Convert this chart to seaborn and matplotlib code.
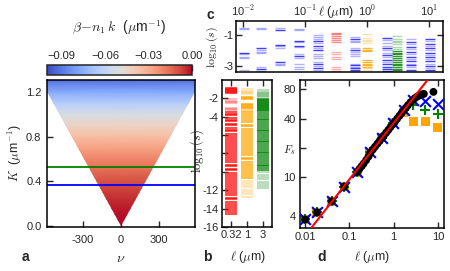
import numpy as np
import matplotlib
matplotlib.use("Agg")
import matplotlib.pyplot as plt
import seaborn as sns
from matplotlib.patches import Polygon
from matplotlib.ticker import NullLocator

sns.set_theme(style="ticks")
plt.rcParams["font.family"] = ["Liberation Sans", "DejaVu Sans"]
plt.rcParams["mathtext.fontset"] = "cm"
plt.rcParams["axes.unicode_minus"] = False

# ── (a) mode map: beta - n1 k ───────────
K_levels = [0.0, 0.1, 0.2, 0.3, 0.4, 0.5, 0.6, 0.7, 0.8, 0.9, 1.0, 1.1, 1.2, 1.3, 1.4]
beta_levels = [0.0, -0.001, -0.003, -0.006, -0.010, -0.015, -0.020, -0.027,
               -0.035, -0.043, -0.052, -0.063, -0.076, -0.090, -0.100]
nu_span = [-600, 600]
cone_slope = 480          # allowed modes: |nu| <= cone_slope * K
K_green = 0.53
K_blue = 0.365

# ── (b) full spectra, log10(s) ────────────────────────────────────
b_ell = ["0.32", "1", "3"]
red_strong = [-0.85, -0.97, -1.09, -1.21, -1.33, -1.45,
              -3.45, -3.65, -3.85, -4.1, -4.3, -4.5, -4.75, -4.95, -5.2, -5.4, -5.6,
              -5.85, -6.05, -6.3, -6.5, -6.7, -6.95, -7.15, -7.4, -7.6, -7.85, -8.05,
              -8.3, -8.5, -8.75, -8.95, -9.2, -9.4, -9.65, -9.85, -10.1, -10.3, -10.55,
              -10.75, -11.0, -11.2, -11.45, -11.65, -11.9, -12.1, -12.35, -12.55, -12.8,
              -13.0, -13.25, -13.45, -13.7, -13.9, -14.15, -14.35, -14.55]
red_faint = [-2.1, -2.25, -2.4, -2.55, -3.05, -3.2, -3.32]
orange_strong = [-1.87, -1.96, -2.05, -2.63, -2.74, -2.85, -2.95, -3.06,
                 -3.5, -3.7, -3.95, -4.15, -4.4, -4.6, -4.85, -5.05, -5.3, -5.5, -5.75,
                 -5.95, -6.2, -6.4, -6.65, -6.85, -7.1, -7.3, -7.55, -7.75, -8.0, -8.2,
                 -8.45, -8.65, -8.9, -9.1, -9.35, -9.55, -9.8, -10.0, -10.25, -10.45, -10.7]
orange_faint = [-0.95, -1.2, -1.3, -1.4, -1.5, -3.17, -3.28, -3.39,
                -10.95, -11.2, -11.45, -11.7, -11.95, -12.2, -12.45, -12.7]
green_strong = [-2.04, -2.15, -2.26, -2.37, -2.48, -2.63, -2.74, -2.85, -2.95, -3.1,
                -3.2, -3.28, -3.39, -3.6, -3.8, -4.0, -4.2, -4.4, -4.6, -4.8, -5.0,
                -5.2, -5.4, -5.6, -5.8, -6.0, -6.2, -6.4, -6.6, -6.8, -7.0, -7.2, -7.4,
                -7.6, -7.8, -8.0, -8.2, -8.4, -8.6, -8.8, -9.0, -9.2, -9.4, -9.6, -9.8]
green_faint = [-1.1, -1.26, -1.37, -1.48, -1.59, -1.75, -1.9,
               -10.05, -10.3, -10.55, -10.8, -11.05, -11.3, -11.55, -11.8]

# ── (c) top of the spectra vs ell (blue columns) ─────────────────
c_ell_red, c_ell_orange, c_ell_green = 0.32, 1.0, 3.0
blue_ell = [0.0104, 0.0195, 0.040, 0.080, 0.163, 0.64, 2.1, 5.05, 10.4]
blue_strong = [
    [-2.15],
    [-1.87, -3.21],
    [-0.65, -1.65, -2.74],
    [-1.39, -1.70, -2.39],
    [-1.37, -1.70, -1.96, -2.87, -3.13],
    [-1.26, -1.98, -2.95, -3.17, -3.28, -3.39],
    [-1.2, -1.83, -2.3, -2.6, -2.9, -3.05, -3.2, -3.35],
    [-1.45, -1.75, -2.1, -2.4, -2.7, -2.95, -3.25, -3.38],
    [-1.25, -1.6, -1.85, -2.15, -2.45, -2.7, -3.0, -3.3],
]
blue_faint = [
    [-0.52, -0.61, -2.26, -2.41, -2.48, -3.28],
    [-0.52, -0.61, -1.95, -2.09, -2.17, -3.06, -3.35],
    [-0.52, -1.74, -1.82, -2.87, -2.95],
    [-0.61, -0.69, -1.48, -1.80, -2.26, -2.52, -2.90, -3.06, -3.2],
    [-1.0, -1.13, -1.26, -1.54, -1.83, -2.26, -2.37, -2.48, -2.74, -3.0, -3.26],
    [-1.15, -1.37, -1.48, -1.87, -2.09, -2.22, -2.35, -2.85, -3.06],
    [-1.35, -1.5, -1.7, -2.0, -2.15, -2.45, -2.75],
    [-1.25, -1.6, -1.9, -2.25, -2.55, -2.85, -3.1],
    [-1.4, -1.7, -2.0, -2.3, -2.55, -2.85, -3.15],
]

# ── (d) F_s vs ell ────────────────────────────────────────────────
ell_mk = [0.01, 0.0185, 0.04, 0.076, 0.15, 0.29, 0.54, 0.98, 1.7, 2.8, 5.1, 10.0]
F_blue = [3.67, 4.35, 5.65, 8.0, 11.2, 18.0, 25.5, 36.4, 49.0, 63.0, 60.6, 57.0]
F_green = [3.67, 4.35, 5.65, 8.0, 11.2, 18.0, 25.5, 36.4, 49.0, 55.0, 48.7, 44.4]
F_orange = [3.67, 4.35, 5.65, 8.0, 11.2, 18.0, 25.5, 36.4, 46.0, 37.0, 37.0, 32.4]
ell_black = [0.01, 0.0185, 0.04, 0.076, 0.15, 0.17, 0.19, 0.21, 0.24, 0.27, 0.3, 0.34,
             0.38, 0.43, 0.48, 0.54, 0.6, 0.68, 0.76, 0.85, 0.95, 1.07, 1.2, 1.35,
             1.5, 1.7, 1.9, 2.1, 2.4, 2.7, 3.0, 3.4, 3.8, 4.3, 4.8, 7.9]
F_black = [3.67, 4.35, 5.65, 8.0, 11.3, 12.2, 13.0, 13.8, 15.0, 16.3, 17.9, 19.3,
           20.6, 22.1, 23.5, 25.2, 26.8, 28.8, 30.7, 32.8, 35.0, 37.4, 40.0, 42.8,
           45.5, 49.0, 52.0, 55.0, 59.0, 62.0, 65.0, 67.5, 69.5, 71.0, 72.0, 75.5]
ell_fit = [0.008, 10.0]
F_fit = [2.19, 137.0]

FS = 8
BLUE, RED, ORANGE, GREEN = "#0000ff", "#ff0000", "#ffa500", "#008000"

fig = plt.figure(figsize=(4.5, 2.71), dpi=100)


def style(ax, **kw):
    ax.tick_params(direction="in", length=4, width=1.0, labelsize=FS, **kw)
    for s in ax.spines.values():
        s.set_linewidth(1.1)
        s.set_color("black")


# ── panel a ──
ax_a = fig.add_axes([0.1044, 0.1624, 0.329, 0.5424])
Z = np.repeat(np.array(beta_levels)[:, None], 2, axis=1)
mesh = ax_a.pcolormesh(nu_span, K_levels, Z, shading="gouraud", cmap="coolwarm",
                       vmin=-0.1, vmax=0.0)
Kmax = K_levels[-1]
tri = Polygon([(0, 0), (-cone_slope * Kmax, Kmax), (cone_slope * Kmax, Kmax)],
              transform=ax_a.transData)
mesh.set_clip_path(tri)
ax_a.axhline(K_green, color=GREEN, lw=1.3)
ax_a.axhline(K_blue, color=BLUE, lw=1.3)
ax_a.set_xlim(-580, 580)
ax_a.set_ylim(-0.01, 1.31)
ax_a.set_xticks([-300, 0, 300])
ax_a.set_yticks([0, 0.4, 0.8, 1.2])
ax_a.set_yticklabels(["0.0", "0.4", "0.8", "1.2"])
style(ax_a, top=True, right=False, pad=4)
ax_a.tick_params(axis="x", pad=6)
ax_a.set_xlabel(r"$\nu$", fontsize=10)
ax_a.xaxis.set_label_coords(0.5, -0.21)
ax_a.xaxis.label.set_va("center")
ax_a.set_ylabel(r"$K$  ($\mu$m$^{-1}$)", fontsize=9)
ax_a.yaxis.set_label_coords(-0.216, 0.5)
ax_a.yaxis.label.set_va("center")

cax = fig.add_axes([0.1044, 0.7232, 0.322, 0.0369])
cb = fig.colorbar(mesh, cax=cax, orientation="horizontal")
cb.outline.set_linewidth(1.1)
cax.xaxis.set_ticks_position("top")
cax.set_xticks([-0.09, -0.06, -0.03, 0.0])
cax.set_xticklabels(["\u22120.09", "\u22120.06", "\u22120.03", "0.00"])
cax.tick_params(direction="in", length=4, width=1.0, labelsize=FS, pad=3)
cax.xaxis.set_minor_locator(NullLocator())
cax.set_xlabel(r"$\beta\!-\!n_1\,k$  ($\mu$m$^{-1}$)", fontsize=10)
cax.xaxis.set_label_position("top")
cax.xaxis.set_label_coords(0.5, 4.8)
cax.xaxis.label.set_va("center")


def spectrum(ax, vals, color, alpha, lo, hi, lw):
    ax.hlines(vals, lo, hi, colors=color, alpha=alpha, lw=lw)


# ── panel b ──
ax_b = fig.add_axes([0.4933, 0.1624, 0.111, 0.5424])
for i, (vs, vf, col) in enumerate([(red_strong, red_faint, RED),
                                   (orange_strong, orange_faint, ORANGE),
                                   (green_strong, green_faint, GREEN)]):
    spectrum(ax_b, vs, col, 0.9, i - 0.38, i + 0.38, 1.1)
    spectrum(ax_b, vf, col, 0.35, i - 0.38, i + 0.38, 1.1)
ax_b.set_xlim(-0.56, 2.56)
ax_b.set_ylim(-16, 0)
ax_b.set_xticks([0, 1, 2])
ax_b.set_xticklabels(b_ell)
ax_b.set_yticks(list(range(-16, -1, 2)))
ax_b.set_yticklabels(["-16", "-14", "-12", "", "", "", "-4", "-2"])
style(ax_b, top=True, right=False, pad=2.5)
ax_b.set_xlabel(r"$\ell$ ($\mu$m)", fontsize=9)
ax_b.xaxis.set_label_coords(0.52, -0.204)
ax_b.xaxis.label.set_va("center")
ax_b.set_ylabel(r"$\log_{10}(s)$", fontsize=9)
ax_b.yaxis.set_label_coords(-0.5, 0.52)
ax_b.yaxis.label.set_va("center")

# ── panel c ──
ax_c = fig.add_axes([0.5244, 0.7343, 0.46, 0.188])
ax_c.set_xscale("log")
hw = 1.2
for x, vs, vf in zip(blue_ell, blue_strong, blue_faint):
    spectrum(ax_c, vs, BLUE, 0.75, x / hw, x * hw, 1.0)
    spectrum(ax_c, vf, BLUE, 0.3, x / hw, x * hw, 1.0)
for x, vs, vf, col, a in [(c_ell_red, red_strong, red_faint, RED, 0.45),
                          (c_ell_orange, orange_strong, orange_faint, ORANGE, 0.8),
                          (c_ell_green, green_strong, green_faint, GREEN, 0.8)]:
    spectrum(ax_c, vs, col, a, x / hw, x * hw, 1.0)
    spectrum(ax_c, vf, col, 0.3, x / hw, x * hw, 1.0)
ax_c.set_xlim(0.0077, 16.8)
ax_c.set_ylim(-3.4, -0.1)
ax_c.set_xticks([0.01, 0.1, 1, 10])
ax_c.set_xticklabels([r"10$^{\mathsf{-2}}$", r"10$^{\mathsf{-1}}$",
                      r"10$^{\mathsf{0}}$", r"10$^{\mathsf{1}}$"])
ax_c.xaxis.set_minor_locator(NullLocator())
ax_c.set_yticks([-3, -1])
ax_c.set_yticklabels(["-3", "-1"])
style(ax_c, top=True, bottom=False, labeltop=True, labelbottom=False, right=True, pad=2)
ax_c.set_xlabel(r"$\ell$ ($\mu$m)", fontsize=9)
ax_c.xaxis.set_label_position("top")
ax_c.xaxis.set_label_coords(0.483, 1.176)
ax_c.xaxis.label.set_va("center")
ax_c.set_ylabel(r"$\log_{10}(s)$", fontsize=8.5)
ax_c.yaxis.set_label_coords(-0.112, 0.5)
ax_c.yaxis.label.set_va("center")

# ── panel d ──
ax_d = fig.add_axes([0.6667, 0.1587, 0.32, 0.546])
ax_d.set_xscale("log")
ax_d.set_yscale("log")
sns.scatterplot(x=ell_mk, y=F_orange, marker="s", color=ORANGE, s=42,
                edgecolor="none", ax=ax_d, zorder=2)
sns.scatterplot(x=ell_mk, y=F_green, marker="+", color=GREEN, s=55,
                linewidth=1.5, ax=ax_d, zorder=3)
sns.scatterplot(x=ell_mk, y=F_blue, marker="x", color=BLUE, s=60,
                linewidth=1.5, ax=ax_d, zorder=4)
sns.scatterplot(x=ell_black, y=F_black, marker="o", color="black", s=32,
                edgecolor="none", ax=ax_d, zorder=5)
sns.lineplot(x=ell_fit, y=F_fit, color=RED, lw=1.5, ax=ax_d, zorder=6)
ax_d.set_xlim(0.0077, 13.7)
ax_d.set_ylim(3, 100)
ax_d.set_xticks([0.01, 0.1, 1, 10])
ax_d.set_xticklabels(["0.01", "0.1", "1", "10"])
ax_d.set_yticks([4, 10, 20, 40, 80])
ax_d.set_yticklabels(["4", "10", r"$F_s$", "40", "80"])
ax_d.xaxis.set_minor_locator(NullLocator())
ax_d.yaxis.set_minor_locator(NullLocator())
style(ax_d, top=True, right=False, pad=3)
ax_d.set_xlabel(r"$\ell$ ($\mu$m)", fontsize=9)
ax_d.xaxis.set_label_coords(0.5, -0.196)
ax_d.xaxis.label.set_va("center")
ax_d.set_ylabel("")

for letter, x, y in [("a", 25, 257), ("b", 207, 257), ("c", 210, 15), ("d", 322, 257)]:
    fig.text(x / 450, 1 - y / 271, letter, fontsize=10, fontweight="bold",
             ha="center", va="center")

fig.savefig("out.png", dpi=100)
